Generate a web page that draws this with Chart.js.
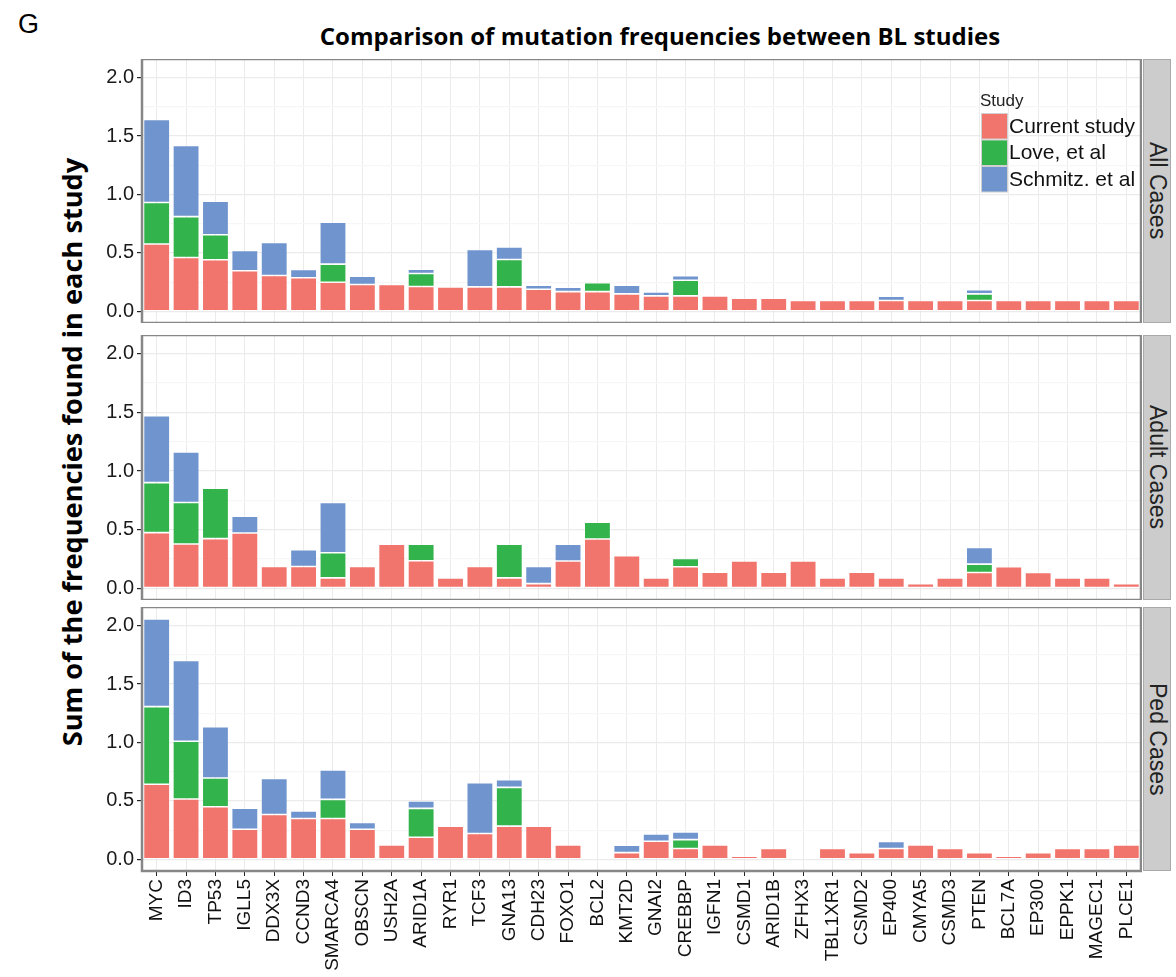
<!DOCTYPE html>
<html>
<head>
<meta charset="utf-8">
<script src="https://cdn.jsdelivr.net/npm/chart.js@4.4.1/dist/chart.umd.min.js"></script>
<style>
  body { margin: 0; background: #fff; }
  #wrap { position: relative; width: 1176px; height: 977px; background: #fff; overflow: hidden; }
  canvas { position: absolute; }
  .txt { position: absolute; white-space: nowrap; color: #000; }
  .strip {
    position: absolute; left: 1143px; width: 28px; background: #cccccc;
    border: 1px solid #a9a9a9; box-sizing: border-box;
    display: flex; align-items: center; justify-content: center;
  }
  .strip span {
    writing-mode: vertical-rl; font-family: "Liberation Sans", Arial, sans-serif;
    font-size: 23px; color: #222;
  }
</style>
</head>
<body>
<div id="wrap">
  <div class="txt" style="left:18px; top:9px; font-family:'Liberation Sans',Arial,sans-serif; font-size:27px;">G</div>
  <div class="txt" id="title" style="left:0; width:1320px; text-align:center; top:19px; font-family:'Open Sans',sans-serif; font-weight:700; font-size:24px;">Comparison of mutation frequencies between BL studies</div>
  <div class="txt" id="ylab" style="left:71px; top:452px; transform:translate(-50%,-50%) rotate(-90deg); font-family:'Open Sans',sans-serif; font-weight:700; font-size:27.2px;">Sum of the frequencies found in each study</div>

  <canvas id="pAll"></canvas>
  <canvas id="pAdult"></canvas>
  <canvas id="pPed"></canvas>

  <div class="strip" style="top:59px; height:264px;"><span>All Cases</span></div>
  <div class="strip" style="top:335px; height:265px;"><span>Adult Cases</span></div>
  <div class="strip" style="top:607px; height:264px;"><span>Ped Cases</span></div>
</div>

<script>
const genes = ['MYC', 'ID3', 'TP53', 'IGLL5', 'DDX3X', 'CCND3', 'SMARCA4', 'OBSCN', 'USH2A', 'ARID1A',
  'RYR1', 'TCF3', 'GNA13', 'CDH23', 'FOXO1', 'BCL2', 'KMT2D', 'GNAI2', 'CREBBP', 'IGFN1',
  'CSMD1', 'ARID1B', 'ZFHX3', 'TBL1XR1', 'CSMD2', 'EP400', 'CMYA5', 'CSMD3', 'PTEN', 'BCL7A',
  'EP300', 'EPPK1', 'MAGEC1', 'PLCE1'];

const studies = ['Current study', 'Love, et al', 'Schmitz. et al'];
const studyColors = ['#f2756d', '#32b34b', '#7095ce'];

// All Cases
const allCurrent = [0.576, 0.461, 0.441, 0.347, 0.307, 0.287, 0.249, 0.229, 0.229, 0.212,
  0.209, 0.209, 0.209, 0.189, 0.169, 0.169, 0.149, 0.132, 0.132, 0.132,
  0.112, 0.112, 0.092, 0.092, 0.092, 0.092, 0.092, 0.092, 0.092, 0.092,
  0.092, 0.092, 0.092, 0.092];
const allLove = [0.355, 0.350, 0.215, 0, 0, 0, 0.155, 0, 0, 0.112,
  0, 0, 0.235, 0, 0, 0.077, 0, 0, 0.134, 0,
  0, 0, 0, 0, 0, 0, 0, 0, 0.057, 0,
  0, 0, 0, 0];
const allSchmitz = [0.711, 0.610, 0.287, 0.174, 0.283, 0.072, 0.358, 0.072, 0, 0.037,
  0, 0.321, 0.106, 0.034, 0.037, 0, 0.074, 0.034, 0.038, 0,
  0, 0, 0, 0, 0, 0.037, 0, 0, 0.037, 0,
  0, 0, 0, 0];

// Adult Cases
const adultCurrent = [0.475, 0.378, 0.423, 0.472, 0.186, 0.186, 0.089, 0.186, 0.375, 0.235,
  0.089, 0.186, 0.089, 0.040, 0.232, 0.420, 0.278, 0.089, 0.183, 0.137,
  0.232, 0.137, 0.232, 0.089, 0.137, 0.089, 0.040, 0.089, 0.134, 0.183,
  0.134, 0.089, 0.089, 0.040];
const adultLove = [0.426, 0.354, 0.430, 0, 0, 0, 0.214, 0, 0, 0.140,
  0, 0, 0.286, 0, 0, 0.143, 0, 0, 0.072, 0,
  0, 0, 0, 0, 0, 0, 0, 0, 0.072, 0,
  0, 0, 0, 0];
const adultSchmitz = [0.570, 0.430, 0, 0.143, 0, 0.143, 0.429, 0, 0, 0,
  0, 0, 0, 0.146, 0.143, 0, 0, 0, 0, 0,
  0, 0, 0, 0, 0, 0, 0, 0, 0.143, 0,
  0, 0, 0, 0];

// Ped Cases
const pedCurrent = [0.642, 0.516, 0.450, 0.258, 0.384, 0.350, 0.350, 0.258, 0.123, 0.189,
  0.284, 0.221, 0.284, 0.284, 0.123, 0, 0.057, 0.155, 0.092, 0.123,
  0.026, 0.092, 0.003, 0.092, 0.057, 0.092, 0.123, 0.092, 0.057, 0.026,
  0.057, 0.092, 0.092, 0.123];
const pedLove = [0.665, 0.495, 0.246, 0, 0, 0, 0.163, 0, 0, 0.247,
  0, 0, 0.332, 0, 0, 0.006, 0, 0, 0.077, 0,
  0, 0, 0, 0, 0, 0, 0, 0, 0.006, 0,
  0, 0, 0, 0];
const pedSchmitz = [0.750, 0.691, 0.439, 0.180, 0.309, 0.063, 0.252, 0.057, 0, 0.063,
  0, 0.435, 0.066, 0, 0, 0, 0.063, 0.063, 0.066, 0,
  0, 0, 0, 0, 0, 0.060, 0, 0, 0, 0,
  0.005, 0, 0, 0];

const yTicks = [0, 0.5, 1.0, 1.5, 2.0];
const yMinor = [0.25, 0.75, 1.25, 1.75];

const FONT = '"Liberation Sans", Arial, sans-serif';

// panel frame (grey border) drawn after the datasets
const framePlugin = {
  id: 'frame',
  afterDraw(chart) {
    const a = chart.chartArea, ctx = chart.ctx;
    ctx.save();
    ctx.strokeStyle = '#878787';
    ctx.lineWidth = 2.5;
    ctx.strokeRect(a.left, a.top, a.right - a.left, a.bottom - a.top);
    ctx.restore();
  }
};

// ggplot-style legend sitting inside the first panel
const studyLegend = {
  id: 'studyLegend',
  afterDraw(chart) {
    const ctx = chart.ctx;
    const x = 982 - chart.canvas.offsetLeft;
    const y0 = 114 - chart.canvas.offsetTop;
    ctx.save();
    ctx.fillStyle = '#222';
    ctx.font = '17px ' + FONT;
    ctx.textBaseline = 'middle';
    ctx.fillText('Study', x - 2, y0 - 13);
    chart.data.datasets.forEach((ds, i) => {
      const y = y0 + i * 26.5;
      ctx.fillStyle = '#d0d0d0';
      ctx.fillRect(x - 1, y - 1, 27, 26.5);
      ctx.fillStyle = ds.backgroundColor;
      ctx.fillRect(x, y, 25, 24.5);
      ctx.fillStyle = '#111';
      ctx.font = '21px ' + FONT;
      ctx.fillText(ds.label, x + 27, y + 13);
    });
    ctx.restore();
  }
};

function makePanel(id, top, height, series, showX, extra) {
  const cv = document.getElementById(id);
  cv.style.left = '0px';
  cv.style.top = top + 'px';
  cv.width = 1142;
  cv.height = height;
  cv.style.width = '1142px';
  cv.style.height = height + 'px';

  const datasets = series.map((vals, i) => ({
    label: studies[i],
    data: vals,
    backgroundColor: studyColors[i],
    borderColor: 'rgba(255,255,255,0.3)',
    borderWidth: 0.8,
    borderSkipped: false,
    barPercentage: 0.9,
    categoryPercentage: 1.0
  }));

  return new Chart(cv, {
    type: 'bar',
    data: { labels: genes, datasets },
    plugins: [framePlugin].concat(extra || []),
    options: {
      responsive: false,
      animation: false,
      layout: { padding: { top: 0, right: 1, bottom: 0, left: 0 } },
      plugins: { legend: { display: false }, tooltip: { enabled: false } },
      scales: {
        x: {
          stacked: true,
          offset: true,
          border: { display: false },
          grid: {
            offset: false,
            color: '#ebebeb',
            lineWidth: 1,
            drawTicks: showX,
            tickLength: 5,
            tickColor: '#222'
          },
          ticks: {
            display: showX,
            autoSkip: false,
            minRotation: 90,
            maxRotation: 90,
            padding: 3,
            color: '#111',
            font: { family: FONT, size: 19 }
          },
          afterFit(scale) {
            scale.height = showX ? 106 : 0;
            scale.paddingLeft = 0;
            scale.paddingRight = 0;
          }
        },
        y: {
          stacked: true,
          min: -0.1,
          max: 2.16,
          border: { display: false },
          afterBuildTicks(scale) {
            scale.ticks = yTicks.concat(yMinor).sort((a, b) => a - b).map(v => ({ value: v }));
          },
          afterFit(scale) {
            scale.width = 142;
            scale.paddingTop = 0;
            scale.paddingBottom = 0;
          },
          grid: {
            color: c => (yMinor.includes(c.tick.value) ? '#f6f6f6' : '#ebebeb'),
            tickColor: c => (yMinor.includes(c.tick.value) ? 'rgba(0,0,0,0)' : '#222'),
            lineWidth: 1.2,
            tickLength: 5
          },
          ticks: {
            padding: 3,
            color: '#1a1a1a',
            font: { family: FONT, size: 20 },
            callback: v => (yMinor.includes(v) ? '' : v.toFixed(1))
          }
        }
      }
    }
  });
}

makePanel('pAll', 59, 264, [allCurrent, allLove, allSchmitz], false, [studyLegend]);
makePanel('pAdult', 335, 265, [adultCurrent, adultLove, adultSchmitz], false);
makePanel('pPed', 607, 977 - 607, [pedCurrent, pedLove, pedSchmitz], true);
</script>
</body>
</html>
